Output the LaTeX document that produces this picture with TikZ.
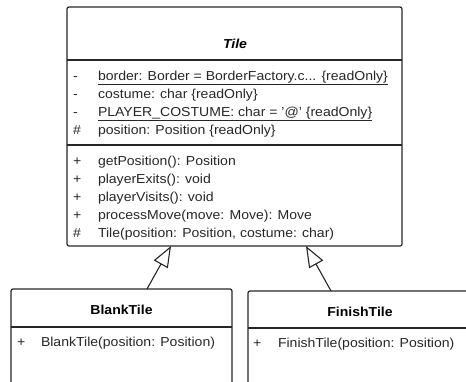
\documentclass[tikz,border=0pt]{standalone}
\usepackage{fontspec}
\setmainfont{Liberation Sans}[FakeStretch=1.08]
\usetikzlibrary{arrows.meta}
\begin{document}
\begin{tikzpicture}[x=1pt,y=-1pt,
  umlbox/.style={draw=black!85, line width=1.2pt, rounded corners=2pt, inner sep=0pt, outer sep=0pt, anchor=north west},
  sepline/.style={draw=black!85, line width=1.2pt},
  txt/.style={anchor=base west, inner sep=0pt, outer sep=0pt, font=\fontsize{13}{15}\selectfont, text=black!85},
  ttl/.style={anchor=base, inner sep=0pt, outer sep=0pt, font=\fontsize{13}{15}\selectfont\bfseries},
  inherit/.style={draw=black!85, line width=1.1pt, -{Triangle[open, length=21pt, width=16pt, line width=1.1pt]}}
]
\useasboundingbox (0,0) rectangle (466,381);
\clip (0,0) rectangle (466,381);
% Tile
\node[umlbox, minimum width=335pt, minimum height=239pt] (tile) at (67,7) {};
\draw[sepline] (67,60) -- (402,60);
\draw[sepline] (67,145) -- (402,145);
\node[ttl, font=\fontsize{13}{15}\selectfont\bfseries\itshape] (tilet) at (235,48) {Tile};
\node[txt] (s1) at (73,80) {-};
\node[txt] (a1) at (98,80) {\underline{border: Border = BorderFactory.c... \{readOnly\}}};
\node[txt] (s2) at (73,98) {-};
\node[txt] (a2) at (98,98) {costume: char \{readOnly\}};
\node[txt] (s3) at (73,116) {-};
\node[txt] (a3) at (98,116) {\underline{PLAYER\_COSTUME: char = '@' \{readOnly\}}};
\node[txt] (s4) at (73,134) {\#};
\node[txt] (a4) at (98,134) {position: Position \{readOnly\}};
\node[txt] (s5) at (73,165) {+};
\node[txt] (m1) at (98,165) {getPosition(): Position};
\node[txt] (s6) at (73,183) {+};
\node[txt] (m2) at (98,183) {playerExits(): void};
\node[txt] (s7) at (73,201) {+};
\node[txt] (m3) at (98,201) {playerVisits(): void};
\node[txt] (s8) at (73,219) {+};
\node[txt] (m4) at (98,219) {processMove(move: Move): Move};
\node[txt] (s9) at (73,237) {\#};
\node[txt] (m5) at (98,237) {Tile(position: Position, costume: char)};
% BlankTile
\node[umlbox, minimum width=221pt, minimum height=120pt] (blank) at (11,289) {};
\draw[sepline] (11,327) -- (232,327);
\node[ttl] (blankt) at (121.5,314) {BlankTile};
\node[txt] (s10) at (17,346) {+};
\node[txt] (b1) at (41,346) {BlankTile(position: Position)};
% FinishTile
\node[umlbox, minimum width=240pt, minimum height=120pt] (finish) at (248,291) {};
\draw[sepline] (248,328) -- (480,328);
\node[ttl] (finisht) at (360,316.5) {FinishTile};
\node[txt] (s11) at (253,347) {+};
\node[txt] (f1) at (278,347) {FinishTile(position: Position)};
% inheritance
\coordinate (bt) at (147,289);
\coordinate (tb1) at (171,246);
\coordinate (ft) at (331,291);
\coordinate (tb2) at (306,246);
\draw[inherit] (bt) -- (tb1);
\draw[inherit] (ft) -- (tb2);
\end{tikzpicture}
\end{document}
